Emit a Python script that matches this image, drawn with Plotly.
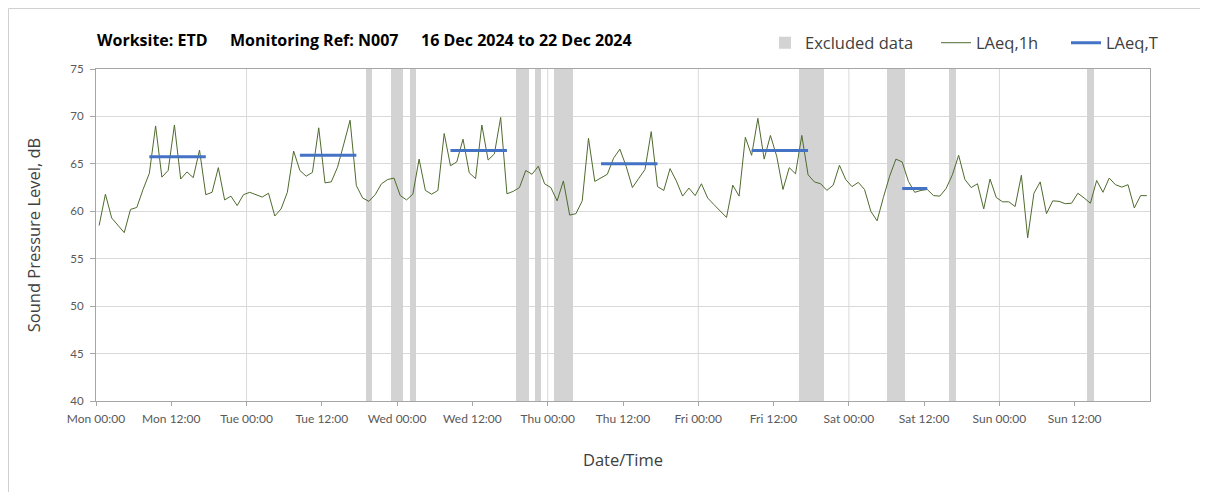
import pandas as pd
import plotly.graph_objects as go

# ---------------- data ----------------
hour_start = "2024-12-16 00:30"   # first hourly LAeq,1h value (mid-hour)
laeq_1h = [
    58.5, 61.8, 59.3, 58.5, 57.75, 60.2, 60.4, 62.3, 64.0, 69.0,
    63.6, 64.3, 69.1, 63.4, 64.15, 63.55, 66.45, 61.75, 62.0, 64.6,
    61.2, 61.6, 60.6, 61.75, 62.0, 61.75, 61.5, 61.9, 59.5, 60.25,
    62.0, 66.35, 64.3, 63.7, 64.1, 68.8, 63.0, 63.1, 64.65, 67.1,
    69.6, 62.7,
    61.4, 61.05, 61.75, 62.9, 63.35, 63.5, 61.65, 61.2, 61.8, 65.5,
    62.2, 61.8, 62.2, 68.2, 64.8, 65.2, 67.6, 64.05, 63.45, 69.1,
    65.4, 66.05, 69.9, 61.85, 62.1, 62.5, 64.3, 63.9, 64.75, 62.9,
    62.5, 61.1, 63.2, 59.6, 59.75, 61.1, 67.7, 63.15, 63.5, 63.9,
    65.6, 66.55,
    64.75, 62.5, 63.45, 64.4, 68.4, 62.6, 62.2, 64.5, 63.2, 61.6,
    62.45, 61.65, 62.9, 61.4, 60.7, 60.0, 59.35, 62.75, 61.6, 67.8,
    65.9, 69.8, 65.5, 68.0, 65.8, 62.3, 64.6, 63.95, 68.0, 63.85,
    63.1, 62.9, 62.2, 62.75, 64.85, 63.35, 62.6, 63.05,
    62.3, 60.0, 59.0, 61.45, 63.7, 65.5, 65.2, 63.15, 62.0, 62.2,
    62.3, 61.65, 61.6, 62.4, 63.85, 65.9, 63.35, 62.5, 62.9, 60.25,
    63.4, 61.45, 61.0, 61.0, 60.5, 63.8, 57.2, 61.9, 63.1, 59.75,
    61.1, 61.05, 60.8, 60.85, 61.9, 61.4, 60.85, 63.25, 62.0, 63.5,
    62.8, 62.55, 62.8, 60.35, 61.65, 61.65,
]

# LAeq,T periods
lt_start = ["2024-12-16 08:30", "2024-12-17 08:30", "2024-12-18 08:30",
            "2024-12-19 08:30", "2024-12-20 08:30", "2024-12-21 08:30"]
lt_end = ["2024-12-16 17:30", "2024-12-17 17:30", "2024-12-18 17:30",
          "2024-12-19 17:30", "2024-12-20 17:30", "2024-12-21 12:30"]
lt_value = [65.75, 65.9, 66.4, 65.0, 66.4, 62.4]

# Excluded data periods
excl_start = ["2024-12-17 19:00", "2024-12-17 23:00", "2024-12-18 02:00",
              "2024-12-18 19:00", "2024-12-18 22:00", "2024-12-19 01:00",
              "2024-12-20 16:00", "2024-12-21 06:00", "2024-12-21 16:00",
              "2024-12-22 14:00"]
excl_end = ["2024-12-17 20:00", "2024-12-18 01:00", "2024-12-18 03:00",
            "2024-12-18 21:00", "2024-12-18 23:00", "2024-12-19 04:00",
            "2024-12-20 20:00", "2024-12-21 09:00", "2024-12-21 17:00",
            "2024-12-22 15:00"]

tick_times = ["2024-12-16 00:00", "2024-12-16 12:00", "2024-12-17 00:00",
              "2024-12-17 12:00", "2024-12-18 00:00", "2024-12-18 12:00",
              "2024-12-19 00:00", "2024-12-19 12:00", "2024-12-20 00:00",
              "2024-12-20 12:00", "2024-12-21 00:00", "2024-12-21 12:00",
              "2024-12-22 00:00", "2024-12-22 12:00"]
tick_labels = ["Mon 00:00", "Mon 12:00", "Tue 00:00", "Tue 12:00",
               "Wed 00:00", "Wed 12:00", "Thu 00:00", "Thu 12:00",
               "Fri 00:00", "Fri 12:00", "Sat 00:00", "Sat 12:00",
               "Sun 00:00", "Sun 12:00"]
grid_days = ["2024-12-17", "2024-12-18", "2024-12-19", "2024-12-20",
             "2024-12-21", "2024-12-22"]
x_range = ["2024-12-16 00:00", "2024-12-23 00:00"]

title_parts = ["Worksite: ETD", "Monitoring Ref: N007",
               "16 Dec 2024 to 22 Dec 2024"]

# ---------------- build ----------------
FONT = "Lato"
FONT2 = "Open Sans"
OFF = 8                      # page body margin
W, H = 1208 - OFF, 492 - OFF
L, R, T, B = 96 - OFF, 1150 - OFF, 69 - OFF, 401 - OFF

times = pd.date_range(hour_start, periods=len(laeq_1h), freq="h")

es = pd.to_datetime(excl_start)
ee = pd.to_datetime(excl_end)
ex_mid = es + (ee - es) / 2
ex_width = [(e - s).total_seconds() * 1000 for s, e in zip(es, ee)]

lt_x, lt_y = [], []
for s, e, v in zip(lt_start, lt_end, lt_value):
    lt_x += [s, e, None]
    lt_y += [v, v, None]


def px_x(px):
    return (px - OFF - L) / (R - L)


def px_y(py):
    return (B - (py - OFF)) / (B - T)


fig = go.Figure()
fig.add_trace(go.Bar(
    x=ex_mid, y=[35] * len(ex_mid), base=40, width=ex_width,
    marker=dict(color="#d3d3d3", line=dict(width=0)),
    name="Excluded data", hoverinfo="skip", legend="legend"))
fig.add_trace(go.Scatter(
    x=times, y=laeq_1h, mode="lines", name="LAeq,1h",
    line=dict(color="#4f6b2e", width=1), legend="legend2"))
fig.add_trace(go.Scatter(
    x=lt_x, y=lt_y, mode="lines", name="LAeq,T",
    line=dict(color="#4472c4", width=3), legend="legend3"))

shapes = [dict(type="line", xref="x", yref="paper", x0=d, x1=d, y0=0, y1=1,
               line=dict(color="#d9d9d9", width=1), layer="below")
          for d in grid_days]
# outer chart border (the page margin keeps it at the figure edge)
shapes.append(dict(type="rect", xref="paper", yref="paper",
                   x0=px_x(OFF + 0.5), x1=px_x(1215), y0=px_y(OFF + 0.5),
                   y1=px_y(500),
                   line=dict(color="#d0d0d0", width=1), layer="above"))

title_x = [95, 228, 419]
annotations = [dict(text=t, xref="paper", yref="paper", x=px_x(xp), y=px_y(40),
                    xanchor="left", yanchor="middle", showarrow=False,
                    font=dict(family=FONT2, size=16, color="#000000",
                              weight="bold"))
               for t, xp in zip(title_parts, title_x)]

legend_common = dict(orientation="h", xanchor="right", yanchor="middle",
                     y=px_y(43), bgcolor="rgba(0,0,0,0)", itemwidth=30,
                     font=dict(family=FONT2, size=16.5, color="#404040"))

fig.update_layout(
    width=W, height=H,
    margin=dict(l=L, r=W - R, t=T, b=H - B, autoexpand=False),
    paper_bgcolor="white", plot_bgcolor="white",
    font=dict(family=FONT, color="#404040"),
    bargap=0,
    showlegend=True,
    legend=dict(x=px_x(919), **legend_common),
    legend2=dict(x=px_x(1044), **legend_common),
    legend3=dict(x=px_x(1163), **legend_common),
    annotations=annotations,
    shapes=shapes,
    hovermode=False,
)

fig.update_xaxes(
    type="date", range=x_range,
    tickmode="array", tickvals=tick_times, ticktext=tick_labels,
    showgrid=False, showline=True, linecolor="#a6a6a6", linewidth=1,
    mirror=True, ticks="outside", ticklen=4, tickcolor="#a6a6a6",
    tickfont=dict(size=12, color="#595959"), ticklabelstandoff=3,
    title=dict(text="Date/Time", font=dict(family=FONT2, size=16.5, color="#404040"),
               standoff=29),
    zeroline=False,
)
fig.update_yaxes(
    range=[40, 75], dtick=5, tick0=40,
    showgrid=True, gridcolor="#d9d9d9", gridwidth=1,
    showline=True, linecolor="#a6a6a6", linewidth=1, mirror=True,
    ticks="outside", ticklen=5, tickcolor="#a6a6a6",
    tickfont=dict(size=11.5, color="#595959"), ticklabelstandoff=4,
    title=dict(text="Sound Pressure Level, dB",
               font=dict(family=FONT2, size=16.5, color="#404040"), standoff=25),
    zeroline=False,
)

fig.write_html("out.html")
